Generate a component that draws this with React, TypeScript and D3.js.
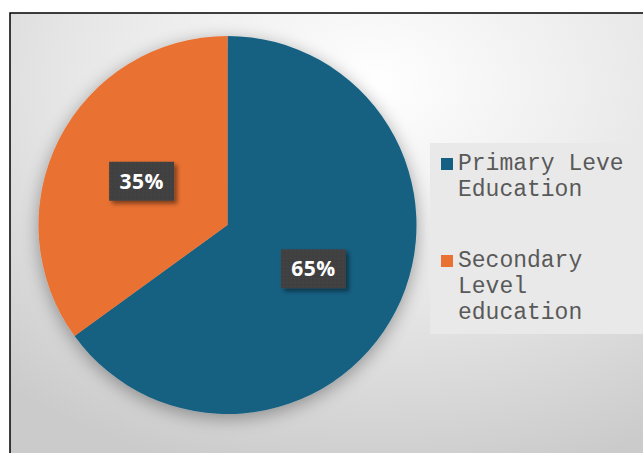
import React from "react";
import * as d3 from "d3";

const categories = ["Primary Leve Education", "Secondary Level education"];
const values = [65, 35];
const valueLabels = ["65%", "35%"];
const legendLines = [["Primary Leve", "Education"], ["Secondary", "Level", "education"]];
const colors = ["#156082", "#E97132"];

export default function App() {
  const W = 643, H = 453;
  const cx = 227.5, cy = 225, r = 189;
  const pie = d3.pie<number>().sort(null).value((d) => d);
  const arcs = pie(values);
  const arc = d3.arc<d3.PieArcDatum<number>>().innerRadius(0).outerRadius(r);
  const labelArc = d3.arc<d3.PieArcDatum<number>>().innerRadius(r * 0.51).outerRadius(r * 0.51);
  const color = d3.scaleOrdinal<string, string>().domain(categories).range(colors);

  const legendY = [170, 267];
  const lineH = 26;

  return (
    <svg width={W} height={H} style={{ position: "absolute", left: 0, top: 0 }}>
      <defs>
        <radialGradient id="bg" cx="0.55" cy="0.15" r="0.85">
          <stop offset="0" stopColor="#ffffff" />
          <stop offset="0.55" stopColor="#e6e6e6" />
          <stop offset="1" stopColor="#cbcbcb" />
        </radialGradient>
        <filter id="pieShadow" x="-20%" y="-20%" width="140%" height="140%">
          <feGaussianBlur in="SourceAlpha" stdDeviation="9" />
          <feOffset dx="0" dy="4" result="b" />
          <feComponentTransfer>
            <feFuncA type="linear" slope="0.35" />
          </feComponentTransfer>
          <feMerge>
            <feMergeNode />
            <feMergeNode in="SourceGraphic" />
          </feMerge>
        </filter>
        <filter id="boxShadow" x="-30%" y="-30%" width="160%" height="160%">
          <feDropShadow dx="3" dy="3" stdDeviation="2" floodColor="#000" floodOpacity="0.45" />
        </filter>
        <pattern id="dots" width="4" height="4" patternUnits="userSpaceOnUse">
          <rect width="4" height="4" fill="#404040" />
          <rect x="1" y="1" width="1.2" height="1.2" fill="#4a4a4a" />
        </pattern>
      </defs>
      <rect x={10} y={13} width={W + 20} height={H + 20} fill="url(#bg)" stroke="#000" strokeWidth={1.5} />
      <g transform={`translate(${cx},${cy})`}>
        <g filter="url(#pieShadow)">
          {arcs.map((a, i) => (
            <path key={i} d={arc(a) || ""} fill={color(categories[i])} />
          ))}
        </g>
        {arcs.map((a, i) => {
          const [x, y] = labelArc.centroid(a);
          return (
            <g key={"l" + i} transform={`translate(${x},${y})`}>
              <rect x={-32.5} y={-19.5} width={65} height={39} fill="url(#dots)" filter="url(#boxShadow)" />
              <text
                x={0}
                y={7.5}
                textAnchor="middle"
                fill="#ffffff"
                fontFamily="'Open Sans', sans-serif"
                fontWeight={700}
                fontSize={21}
                letterSpacing={0.5}
              >
                {valueLabels[i]}
              </text>
            </g>
          );
        })}
      </g>
      <rect x={430} y={143} width={W - 430} height={191} fill="#e9e9e9" />
      {categories.map((c, i) => (
        <g key={"lg" + i}>
          <rect x={441} y={legendY[i] - 12} width={12} height={12} fill={color(c)} />
          {legendLines[i].map((t, j) => (
            <text
              key={j}
              x={458}
              y={legendY[i] + j * lineH}
              fill="#595959"
              fontFamily="'Liberation Mono', monospace"
              fontSize={23}
            >
              {t}
            </text>
          ))}
        </g>
      ))}
    </svg>
  );
}
